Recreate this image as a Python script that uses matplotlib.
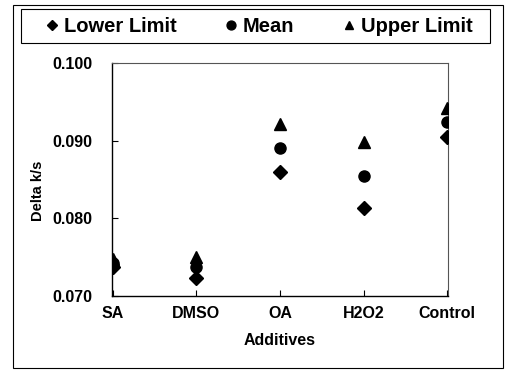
import matplotlib.pyplot as plt
from matplotlib.patches import Rectangle

additives = ['SA', 'DMSO', 'OA', 'H2O2', 'Control']
lower = [0.0737, 0.0723, 0.0860, 0.0813, 0.0905]
mean = [0.0742, 0.0737, 0.0891, 0.0855, 0.0924]
upper = [0.0748, 0.0750, 0.0921, 0.0898, 0.0942]
yticks = [0.070, 0.080, 0.090, 0.100]


def main():
    plt.rcParams['font.family'] = ['Liberation Sans', 'DejaVu Sans']
    fig = plt.figure(figsize=(5.05, 3.74), dpi=100)
    ax = fig.add_axes([0.2218, 0.2086, 0.6653, 0.623])

    x = list(range(1, len(additives) + 1))
    ax.plot(x, lower, 'D', color='black', markersize=7, label='Lower Limit', zorder=3)
    ax.plot(x, mean, 'o', color='black', markersize=8, label='Mean', zorder=3)
    ax.plot(x, upper, '^', color='black', markersize=8, label='Upper Limit', zorder=3)

    ax.set_xlim(0.99, 5.01)
    ax.set_ylim(0.070, 0.100)
    ax.set_xticks(x)
    ax.set_xticklabels(additives, fontsize=11.5, fontweight='bold')
    ax.set_yticks(yticks)
    ax.set_yticklabels(['%.3f' % v for v in yticks], fontsize=11.5, fontweight='bold')
    ax.tick_params(direction='in', length=4, width=0.8)
    ax.tick_params(axis='x', pad=7)
    ax.tick_params(axis='y', pad=14)
    ax.set_xlabel('Additives', fontsize=11.5, fontweight='bold', labelpad=9)
    ax.set_ylabel('Delta k/s', fontsize=10.5, fontweight='bold')
    ax.yaxis.set_label_coords(-0.2, 0.45)

    for side in ['left', 'bottom']:
        ax.spines[side].set_color('black')
        ax.spines[side].set_linewidth(1.0)
    for side in ['top', 'right']:
        ax.spines[side].set_color('#555555')
        ax.spines[side].set_linewidth(0.8)

    # legend across the top, box drawn separately
    fig.legend(loc='center', bbox_to_anchor=(0.513, 0.930), ncol=3,
               frameon=False, handletextpad=0.3, handlelength=0.6,
               columnspacing=2.4, markerscale=0.8, borderaxespad=0,
               prop={'size': 14.5, 'weight': 'bold'})
    fig.patches.append(Rectangle((0.0416, 0.885), 0.9287, 0.091, transform=fig.transFigure,
                                 fill=False, edgecolor='black', linewidth=0.8))

    # outer figure border
    fig.patches.append(Rectangle((0.026, 0.016), 0.97, 0.97, transform=fig.transFigure,
                                 fill=False, edgecolor='black', linewidth=0.8))

    fig.savefig('out.png', dpi=100)


if __name__ == '__main__':
    main()
